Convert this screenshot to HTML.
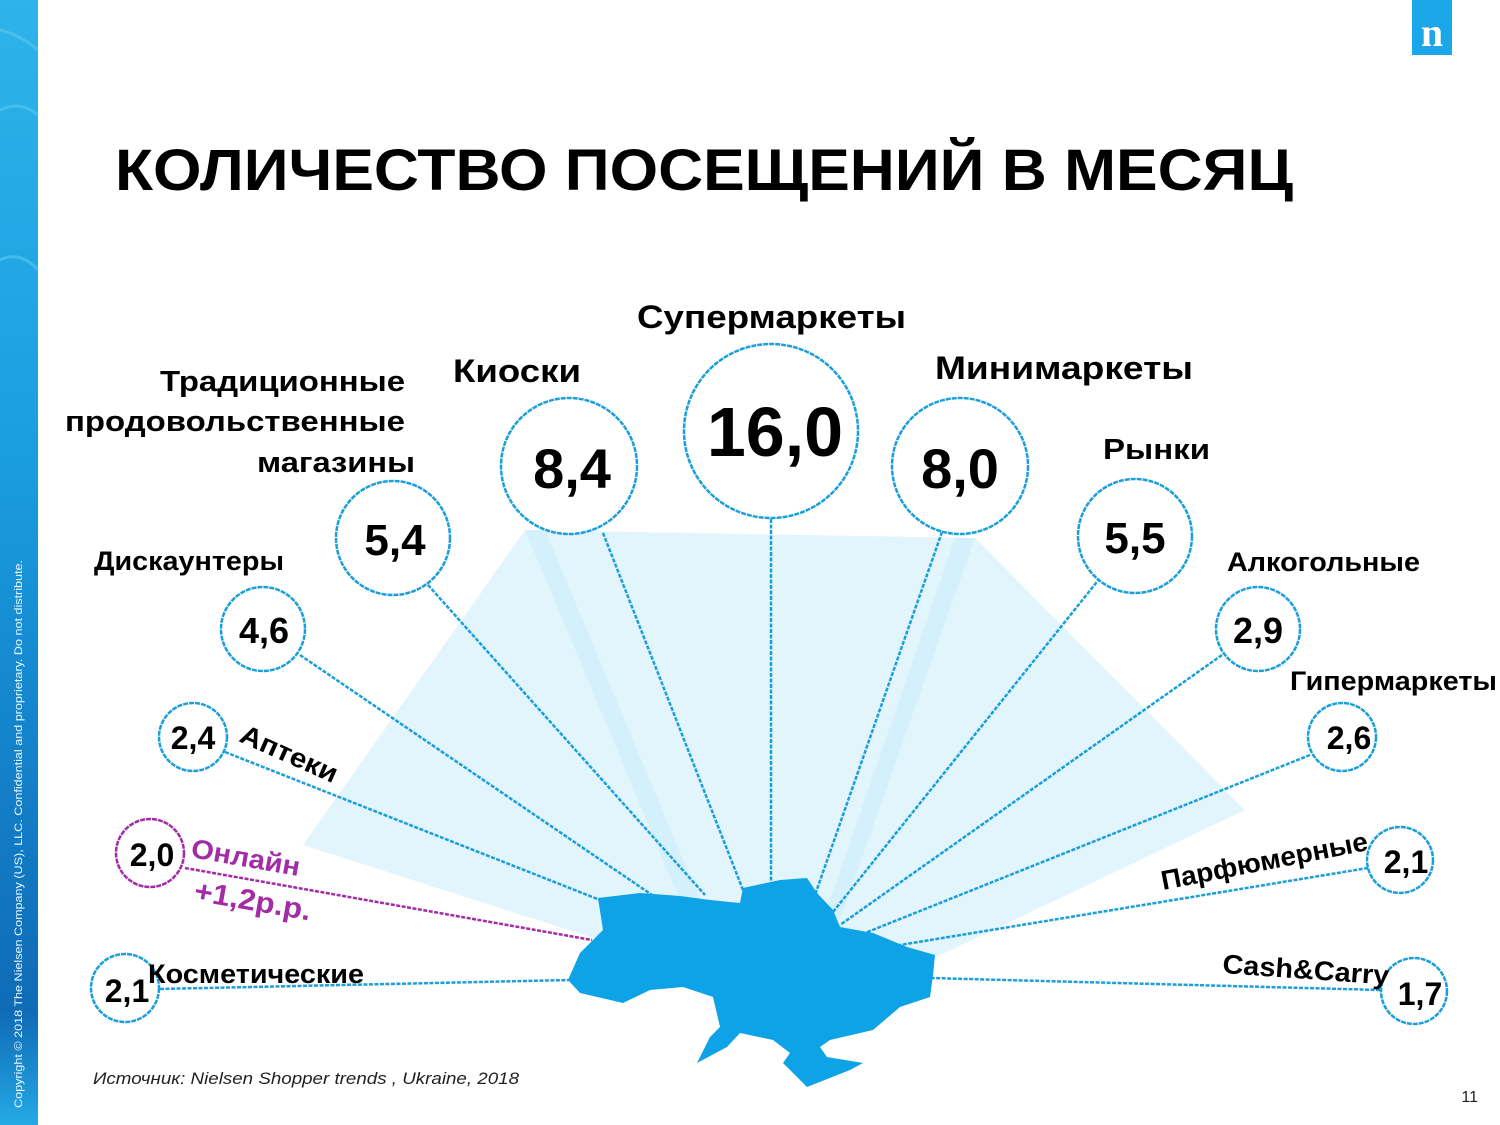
<!DOCTYPE html>
<html><head><meta charset="utf-8"><style>
html,body{margin:0;padding:0;background:#fff}
body{width:1500px;height:1125px;overflow:hidden;position:relative;font-family:"Liberation Sans",Arial,sans-serif}
svg{position:absolute;left:0;top:0}
</style></head><body>
<svg width="1500" height="1125" viewBox="0 0 1500 1125" xmlns="http://www.w3.org/2000/svg" font-family="Liberation Sans, Arial, sans-serif">
<defs>
<linearGradient id="lg" x1="0" y1="0" x2="0" y2="1">
<stop offset="0" stop-color="#2fb3ea"/><stop offset="0.4" stop-color="#1a9ee0"/><stop offset="0.7" stop-color="#137fc8"/><stop offset="0.9" stop-color="#0f6bb5"/><stop offset="1" stop-color="#25aae6"/>
</linearGradient>
</defs>
<rect x="0" y="0" width="38" height="1125" fill="url(#lg)"/>
<path d="M0 30 Q20 35 38 50 M0 110 Q20 100 38 115 M0 260 Q20 250 38 270" stroke="#5cc8f0" stroke-width="3" fill="none" opacity="0.6"/>
<text transform="translate(22,1108) rotate(-90)" font-size="11" fill="#e8f6fd" textLength="548" lengthAdjust="spacingAndGlyphs">Copyright © 2018 The Nielsen Company (US), LLC. Confidential and proprietary. Do not distribute.</text>

<rect x="1412" y="0" width="40" height="55" fill="#1aa6e8"/>
<text x="1432" y="46" font-family="Liberation Serif, serif" font-size="40" font-weight="bold" fill="#fff" text-anchor="middle">n</text>

<text x="115" y="190" font-size="58" font-weight="bold" fill="#000" textLength="1178" lengthAdjust="spacingAndGlyphs">КОЛИЧЕСТВО ПОСЕЩЕНИЙ В МЕСЯЦ</text>

<polygon points="303,845 525,530 975,538 1245,810 930,960 600,940" fill="#e3f5fc"/>
<polygon points="525,530 545,530 700,900 680,900" fill="#cdeef9" opacity="0.7"/>
<polygon points="955,538 975,538 840,920 825,915" fill="#cdeef9" opacity="0.7"/>

<g stroke="#1a9fd9" stroke-width="2.5" stroke-dasharray="4 1.5" fill="none">
<line x1="771" y1="519" x2="771" y2="888"/>
<line x1="603" y1="533" x2="743" y2="890"/>
<line x1="942" y1="532" x2="815" y2="895"/>
<line x1="428" y1="585" x2="705" y2="895"/>
<line x1="1100" y1="578" x2="833" y2="912"/>
<line x1="300" y1="655" x2="655" y2="897"/>
<line x1="1222" y1="655" x2="840" y2="925"/>
<line x1="225" y1="752" x2="600" y2="900"/>
<line x1="1310" y1="755" x2="860" y2="935"/>
<line x1="1368" y1="868" x2="900" y2="945"/>
<line x1="160" y1="989" x2="570" y2="980"/>
<line x1="1380" y1="990" x2="930" y2="978"/>
</g>
<line x1="185" y1="868" x2="592" y2="940" stroke="#a22ca6" stroke-width="2.5" stroke-dasharray="4 1.5"/>

<path d="M598,898 L640,893 L680,896 L710,900 L740,903 L743,888 L780,880 L807,878 L817,893 L833,910 L840,927 L873,933 L907,947 L935,955 L933,975 L930,997 L900,1007 L873,1030 L830,1040 L820,1047 L827,1057 L863,1063 L850,1070 L807,1087 L783,1063 L790,1053 L773,1040 L740,1033 L727,1047 L697,1063 L710,1037 L720,1027 L713,997 L683,987 L650,990 L623,1003 L580,993 L568,980 L580,953 L603,930 Z" fill="#0ea2e6"/>

<g fill="#fff" stroke="#1a9fd9" stroke-width="2.5" stroke-dasharray="5 1">
<circle cx="771" cy="431" r="87"/>
<circle cx="569" cy="466" r="68"/>
<circle cx="960" cy="466" r="68"/>
<circle cx="393" cy="538" r="57"/>
<circle cx="1135" cy="536" r="57"/>
<circle cx="263" cy="629" r="42"/>
<circle cx="1258" cy="629" r="42"/>
<circle cx="193" cy="737" r="34"/>
<circle cx="1342" cy="737" r="34"/>
<circle cx="1400" cy="860" r="33"/>
<circle cx="125" cy="988" r="34"/>
<circle cx="1414" cy="991" r="33"/>
</g>
<circle cx="150" cy="853" r="34" fill="#fff" stroke="#a22ca6" stroke-width="2.5" stroke-dasharray="5 1"/>

<g font-weight="bold" fill="#000" text-anchor="middle">
<text x="775" y="456" font-size="70">16,0</text>
<text x="572" y="488" font-size="56">8,4</text>
<text x="960" y="488" font-size="56">8,0</text>
<text x="395" y="555" font-size="44">5,4</text>
<text x="1135" y="553" font-size="44">5,5</text>
<text x="264" y="643" font-size="36">4,6</text>
<text x="1258" y="643" font-size="36">2,9</text>
<text x="193" y="749" font-size="32">2,4</text>
<text x="1349" y="749" font-size="32">2,6</text>
<text x="152" y="866" font-size="32">2,0</text>
<text x="1406" y="873" font-size="32">2,1</text>
<text x="127" y="1002" font-size="32">2,1</text>
<text x="1420" y="1005" font-size="32">1,7</text>
</g>
<g font-weight="bold" fill="#000" lengthAdjust="spacingAndGlyphs">
<text x="637" y="328" font-size="32" textLength="269" lengthAdjust="spacingAndGlyphs">Супермаркеты</text>
<text x="453" y="382" font-size="32" textLength="128" lengthAdjust="spacingAndGlyphs">Киоски</text>
<text x="935" y="379" font-size="32" textLength="258" lengthAdjust="spacingAndGlyphs">Минимаркеты</text>
<text x="1103" y="459" font-size="29" textLength="107" lengthAdjust="spacingAndGlyphs">Рынки</text>
<text x="1227" y="571" font-size="27" textLength="193" lengthAdjust="spacingAndGlyphs">Алкогольные</text>
<text x="1290" y="690" font-size="27" textLength="207" lengthAdjust="spacingAndGlyphs">Гипермаркеты</text>
<text x="94" y="570" font-size="27" textLength="190" lengthAdjust="spacingAndGlyphs">Дискаунтеры</text>
<text x="148" y="983" font-size="27" textLength="216" lengthAdjust="spacingAndGlyphs">Косметические</text>
<text x="160" y="391" font-size="29" textLength="245" lengthAdjust="spacingAndGlyphs">Традиционные</text>
<text x="65" y="431" font-size="29" textLength="340" lengthAdjust="spacingAndGlyphs">продовольственные</text>
<text x="257" y="472" font-size="29" textLength="158" lengthAdjust="spacingAndGlyphs">магазины</text>
</g>
<text transform="translate(238,741) rotate(24)" font-size="27" font-weight="bold" fill="#000" textLength="104" lengthAdjust="spacingAndGlyphs">Аптеки</text>
<text transform="translate(190,857) rotate(10)" font-size="27" font-weight="bold" fill="#a22ca6" textLength="110" lengthAdjust="spacingAndGlyphs">Онлайн</text>
<text transform="translate(193,900) rotate(10)" font-size="29" font-weight="bold" fill="#a22ca6" textLength="118" lengthAdjust="spacingAndGlyphs">+1,2р.р.</text>
<text transform="translate(1163,890) rotate(-11)" font-size="27" font-weight="bold" fill="#000" textLength="210" lengthAdjust="spacingAndGlyphs">Парфюмерные</text>
<text transform="translate(1222,973) rotate(4)" font-size="27" font-weight="bold" fill="#000" textLength="167" lengthAdjust="spacingAndGlyphs">Cash&amp;Carry</text>

<text x="93" y="1084" font-size="17" font-style="italic" fill="#222" textLength="426" lengthAdjust="spacingAndGlyphs">Источник: Nielsen Shopper trends , Ukraine, 2018</text>
<text x="1478" y="1102" font-size="16" fill="#222" text-anchor="end">11</text>
</svg>
</body></html>
